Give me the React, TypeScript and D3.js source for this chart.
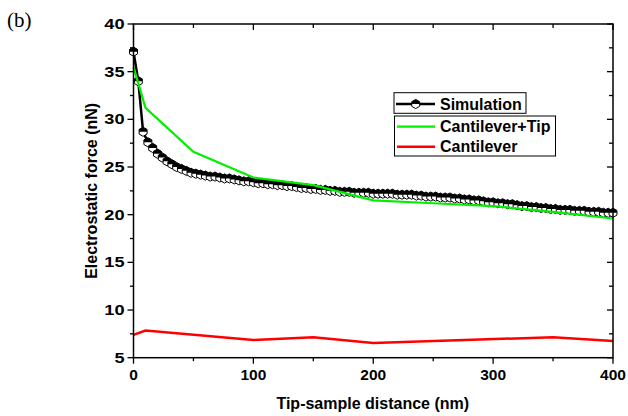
import * as d3 from 'd3';

// Simulation (x step 4 nm)
const simX = [
  0, 4, 8, 12, 16, 20, 24, 28, 32, 36, 40, 44, 48, 52, 56, 60, 64, 68, 72, 76,
  80, 84, 88, 92, 96, 100, 104, 108, 112, 116, 120, 124, 128, 132, 136, 140, 144, 148, 152, 156,
  160, 164, 168, 172, 176, 180, 184, 188, 192, 196, 200, 204, 208, 212, 216, 220, 224, 228, 232, 236,
  240, 244, 248, 252, 256, 260, 264, 268, 272, 276, 280, 284, 288, 292, 296, 300, 304, 308, 312, 316,
  320, 324, 328, 332, 336, 340, 344, 348, 352, 356, 360, 364, 368, 372, 376, 380, 384, 388, 392, 396, 400,
];
const simY = [
  37.1, 34.0, 28.7, 27.6, 27.0, 26.4, 26.0, 25.6, 25.3, 25.0, 24.8, 24.6, 24.4, 24.3, 24.2, 24.1, 24.0, 24.0, 23.9, 23.8,
  23.8, 23.7, 23.6, 23.5, 23.5, 23.4, 23.3, 23.3, 23.2, 23.2, 23.1, 23.1, 23.0, 23.0, 22.9, 22.8, 22.8, 22.7, 22.7, 22.6,
  22.6, 22.5, 22.5, 22.4, 22.4, 22.4, 22.3, 22.3, 22.3, 22.3, 22.2, 22.2, 22.2, 22.2, 22.2, 22.1, 22.1, 22.1, 22.1, 22.0,
  22.0, 21.9, 21.9, 21.9, 21.8, 21.8, 21.8, 21.7, 21.7, 21.6, 21.6, 21.5, 21.5, 21.4, 21.3, 21.3, 21.2, 21.2, 21.1, 21.1,
  21.0, 20.9, 20.9, 20.8, 20.8, 20.7, 20.7, 20.6, 20.6, 20.5, 20.5, 20.5, 20.4, 20.4, 20.4, 20.3, 20.3, 20.3, 20.2, 20.2, 20.2,
];

const tipX = [0, 10, 50, 100, 150, 200, 250, 300, 350, 400];
const tipY = [35.5, 31.2, 26.6, 23.9, 23.1, 21.5, 21.2, 20.9, 20.3, 19.6];

const cantX = [0, 10, 100, 150, 200, 350, 400];
const cantY = [7.4, 7.85, 6.85, 7.15, 6.55, 7.15, 6.75];

const xTicks = [0, 100, 200, 300, 400];
const yTicks = [5, 10, 15, 20, 25, 30, 35, 40];

const W = 628;
const H = 416;
const left = 133.5;
const right = 613;
const top = 24;
const bottom = 357.7;
const font = '"Liberation Sans", Arial, sans-serif';
const green = '#00f000';

const x = d3.scaleLinear().domain([0, 400]).range([left, right]);
const y = d3.scaleLinear().domain([5, 40]).range([bottom, top]);

const toPts = (xs: number[], ys: number[]) => xs.map((v, i) => [v, ys[i]] as [number, number]);
const line = d3.line<[number, number]>().x(d => x(d[0])).y(d => y(d[1]));

const r = 4.6;
const c = r * Math.cos(Math.PI / 6);
const hexFull = `M0,${-r}L${c},${-r / 2}L${c},${r / 2}L0,${r}L${-c},${r / 2}L${-c},${-r / 2}Z`;
const hexTop = `M${-c},0L${-c},${-r / 2}L0,${-r}L${c},${-r / 2}L${c},0Z`;

const Marker = ({ cx, cy }: { cx: number; cy: number }) => (
  <g transform={`translate(${cx},${cy})`}>
    <path d={hexFull} fill="#fff" stroke="#000" strokeWidth={1} />
    <path d={hexTop} fill="#000" />
  </g>
);

export default function App() {
  const xMinor = d3.range(0, 401, 50);
  const yMinor = d3.range(5, 40.01, 2.5);
  return (
    <svg width={W} height={H} style={{ position: 'absolute', left: 0, top: 0, background: '#fff' }}>
      <rect width={W} height={H} fill="#fff" />
      <text x={7} y={27} fontFamily='"Liberation Serif", "Times New Roman", serif' fontSize={21}>(b)</text>

      {/* ticks */}
      <g stroke="#000" strokeWidth={1.3}>
        {xMinor.map(t => {
          const major = t % 100 === 0;
          return (
            <g key={'x' + t}>
              <line x1={x(t)} x2={x(t)} y1={bottom} y2={bottom + (major ? 6 : 3.5)} />
              <line x1={x(t)} x2={x(t)} y1={top} y2={top + (major ? 6 : 4)} />
            </g>
          );
        })}
        {yMinor.map(t => {
          const major = t % 5 === 0;
          return (
            <g key={'y' + t}>
              <line x1={left} x2={left - (major ? 6 : 3.5)} y1={y(t)} y2={y(t)} />
              <line x1={right} x2={right - (major ? 6 : 4)} y1={y(t)} y2={y(t)} />
            </g>
          );
        })}
      </g>

      {/* data */}
      <path d={line(toPts(simX, simY)) ?? ''} fill="none" stroke="#000" strokeWidth={2.5} />
      {simX.map((v, i) => (
        <Marker key={i} cx={x(v)} cy={y(simY[i])} />
      ))}
      <path d={line(toPts(tipX, tipY)) ?? ''} fill="none" stroke={green} strokeWidth={2.2} />
      <path d={line(toPts(cantX, cantY)) ?? ''} fill="none" stroke="#ff0000" strokeWidth={2.5} />

      {/* frame */}
      <rect x={left} y={top} width={right - left} height={bottom - top} fill="none" stroke="#000" strokeWidth={1.5} />

      {/* tick labels */}
      <g fontFamily={font} fontWeight="bold" fontSize={15.5} textAnchor="middle">
        {xTicks.map(t => (
          <text key={t} x={x(t)} y={380}>{t}</text>
        ))}
      </g>
      <g fontFamily={font} fontWeight="bold" fontSize={14} textAnchor="end">
        {yTicks.map(t => (
          <text key={t} transform={`translate(${left - 9},${y(t) + 5}) scale(1.3,1)`}>{t}</text>
        ))}
      </g>

      {/* axis titles */}
      <text x={(left + right) / 2 - 0.5} y={409} textAnchor="middle" fontFamily={font} fontWeight="bold" fontSize={16}>
        Tip-sample distance (nm)
      </text>
      <text transform={`translate(97,${(top + bottom) / 2}) rotate(-90)`} textAnchor="middle" fontFamily={font} fontWeight="bold" fontSize={16}>
        Electrostatic force (nN)
      </text>

      {/* legend */}
      <g fontFamily={font} fontWeight="bold" fontSize={16}>
        <rect x={394} y={92.7} width={132} height={20.6} fill="#fff" stroke="#000" strokeWidth={1} />
        <line x1={396} x2={435} y1={104} y2={104} stroke="#000" strokeWidth={2.5} />
        <Marker cx={415.7} cy={104} />
        <text x={440} y={109.5}>Simulation</text>

        <rect x={394.5} y={116} width={161} height={40} fill="#fff" stroke="#000" strokeWidth={1} />
        <line x1={397} x2={435} y1={126.7} y2={126.7} stroke={green} strokeWidth={2.2} />
        <text x={440} y={132}>Cantilever+Tip</text>
        <line x1={397} x2={435} y1={146.7} y2={146.7} stroke="#ff0000" strokeWidth={2.5} />
        <text x={440} y={152}>Cantilever</text>
      </g>
    </svg>
  );
}
